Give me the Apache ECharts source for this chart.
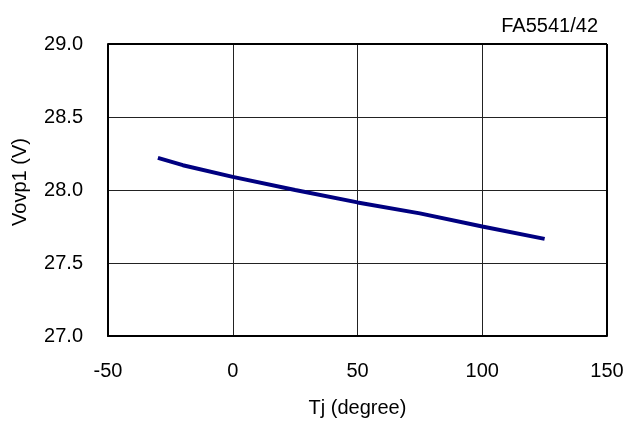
<!DOCTYPE html>
<html>
<head>
<meta charset="utf-8">
<script src="https://cdn.jsdelivr.net/npm/echarts@6/dist/echarts.min.js"></script>
<style>
  html, body { margin: 0; padding: 0; background: #fff; }
  #chart { width: 628px; height: 423px; }
</style>
</head>
<body>
<div id="chart"></div>
<script>
// data
var temps = [-30, -20, 0, 25, 50, 75, 100, 125];
var vovp1 = [28.22, 28.17, 28.09, 28.0, 27.915, 27.84, 27.75, 27.665];
var xTicks = [-50, 0, 50, 100, 150];
var yTicks = [27.0, 27.5, 28.0, 28.5, 29.0];

var pts = temps.map(function (t, i) { return [t, vovp1[i]]; });
var font = 'Liberation Sans, Arial, sans-serif';

var myChart = echarts.init(document.getElementById('chart'));
var option = {
  animation: false,
  title: {
    text: 'FA5541/42',
    right: 25, top: 11,
    textStyle: { fontFamily: font, fontSize: 20, fontWeight: 'normal', color: '#000' }
  },
  grid: { left: 108, right: 21, top: 44, bottom: 86 },
  xAxis: {
    type: 'value',
    min: xTicks[0], max: xTicks[xTicks.length - 1], interval: 50,
    name: 'Tj (degree)', nameLocation: 'middle', nameGap: 62,
    nameTextStyle: { fontFamily: font, fontSize: 20, color: '#000' },
    axisLine: { show: true, onZero: false, lineStyle: { color: '#000', width: 2 } },
    axisTick: { show: false },
    axisLabel: { fontFamily: font, fontSize: 20, color: '#000', margin: 25 },
    splitLine: { show: true, lineStyle: { color: '#222', width: 1 } }
  },
  yAxis: {
    type: 'value',
    min: yTicks[0], max: yTicks[yTicks.length - 1], interval: 0.5,
    name: 'Vovp1 (V)', nameLocation: 'middle', nameGap: 78,
    nameTextStyle: { fontFamily: font, fontSize: 20, color: '#000', padding: [0, 0, 0, 16] },
    axisLine: { show: true, onZero: false, lineStyle: { color: '#000', width: 2 } },
    axisTick: { show: false },
    axisLabel: {
      fontFamily: font, fontSize: 20, color: '#000', margin: 25,
      formatter: function (v) { return v.toFixed(1); }
    },
    splitLine: { show: true, lineStyle: { color: '#222', width: 1 } }
  },
  series: [{
    type: 'line',
    data: pts,
    symbol: 'none',
    smooth: false,
    lineStyle: { color: '#000080', width: 4 }
  }, {
    // right and top frame lines
    type: 'line', data: [], silent: true,
    markLine: {
      silent: true, symbol: 'none', label: { show: false },
      lineStyle: { color: '#000', width: 2, type: 'solid' },
      data: [{ xAxis: xTicks[xTicks.length - 1] }, { yAxis: yTicks[yTicks.length - 1] }]
    }
  }]
};
myChart.setOption(option);
</script>
</body>
</html>
